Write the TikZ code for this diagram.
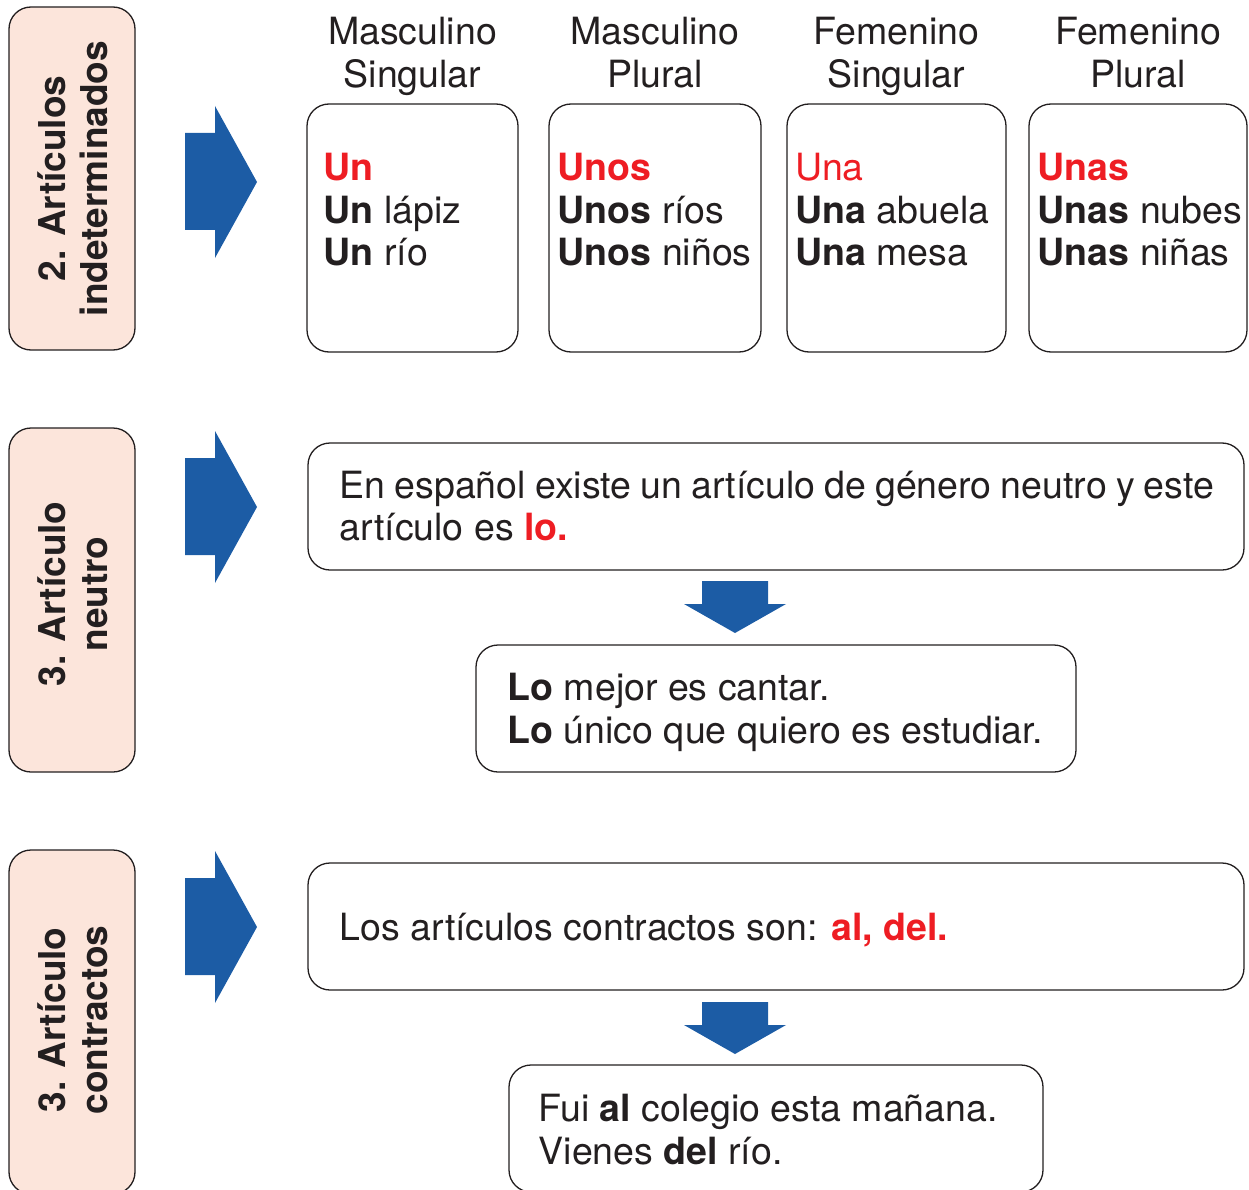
\documentclass[tikz,border=0pt]{standalone}
\usepackage{fontspec}
\setmainfont{TeX Gyre Heros}
\definecolor{ink}{HTML}{231F20}
\definecolor{redA}{HTML}{EE1D23}
\definecolor{blueA}{HTML}{1C5CA5}
\definecolor{peach}{HTML}{FCE5DB}
\begin{document}
\begin{tikzpicture}[x=1pt,y=-1pt,
  box/.style={draw=ink, line width=1.3pt, rounded corners=22pt, fill=white, inner sep=0pt, outer sep=0pt},
  lab/.style={draw=ink, line width=1.3pt, rounded corners=22pt, fill=peach, inner sep=0pt, outer sep=0pt, minimum width=126pt, minimum height=343pt},
  col/.style={box, minimum height=248pt},
  wide/.style={box, minimum height=127pt},
  txt/.style={font=\fontsize{37.5}{43}\selectfont, text=ink, inner sep=0pt, anchor=base west},
  hd/.style={font=\fontsize{37.5}{43}\selectfont, text=ink, inner sep=0pt, anchor=base},
  vt/.style={font=\fontsize{37}{42}\selectfont\bfseries, text=ink, inner sep=0pt, anchor=base, rotate=90},
  rarrow/.pic={\fill[blueA] (0,0) -- (-42,-76) -- (-42,-49) -- (-72,-49) -- (-72,48) -- (-42,48) -- (-42,76) -- cycle;},
  darrow/.pic={\fill[blueA] (0,0) -- (-51,-29) -- (-33,-29) -- (-33,-52) -- (33,-52) -- (33,-29) -- (51,-29) -- cycle;}
]
\useasboundingbox (0,0) rectangle (1249,1190);

% left label boxes
\node[lab] (L1) at (72,178.5) {};
\node[lab, minimum height=344pt] (L2) at (72,600) {};
\node[lab, minimum height=344pt] (L3) at (72,1022) {};
\node[vt] (L1a) at (65,178.5) {2. Artículos};
\node[vt] (L1b) at (107,178.5) {indeterminados};
\node[vt] (L2a) at (65,594) {3. Artículo};
\node[vt] (L2b) at (107,594) {neutro};
\node[vt] (L3a) at (65,1020) {3. Artículo};
\node[vt] (L3b) at (107,1020) {contractos};

% right arrows
\pic at (257,182) {rarrow};
\pic at (257,507) {rarrow};
\pic at (257,927) {rarrow};

% headers
\node[hd] (h1a) at (412.5,45) {Masculino};
\node[hd] (h1b) at (412.5,88) {Singular};
\node[hd] (h2a) at (655,45) {Masculino};
\node[hd] (h2b) at (655,88) {Plural};
\node[hd] (h3a) at (896.5,45) {Femenino};
\node[hd] (h3b) at (896.5,88) {Singular};
\node[hd] (h4a) at (1138,45) {Femenino};
\node[hd] (h4b) at (1138,88) {Plural};

% column boxes
\node[col, minimum width=211pt] (c1) at (412.5,228) {};
\node[col, minimum width=212pt] (c2) at (655,228) {};
\node[col, minimum width=219pt] (c3) at (896.5,228) {};
\node[col, minimum width=218pt] (c4) at (1138,228) {};

\node[txt] (c1a) at (323.5,180.5) {\textcolor{redA}{\bfseries Un}};
\node[txt] (c1b) at (323.5,223.5) {\textbf{Un} lápiz};
\node[txt] (c1c) at (323.5,265.5) {\textbf{Un} río};

\node[txt] (c2a) at (557.5,180.5) {\textcolor{redA}{\bfseries Unos}};
\node[txt] (c2b) at (557.5,223.5) {\textbf{Unos} ríos};
\node[txt] (c2c) at (557.5,265.5) {\textbf{Unos} niños};

\node[txt] (c3a) at (795,180.5) {\textcolor{redA}{Una}};
\node[txt] (c3b) at (795,223.5) {\textbf{Una} abuela};
\node[txt] (c3c) at (795,265.5) {\textbf{Una} mesa};

\node[txt] (c4a) at (1037.5,180.5) {\textcolor{redA}{\bfseries Unas}};
\node[txt] (c4b) at (1037.5,223.5) {\textbf{Unas} nubes};
\node[txt] (c4c) at (1037.5,265.5) {\textbf{Unas} niñas};

% neutral article
\node[wide, minimum width=936pt] (P1) at (776,506.5) {};
\node[txt] (P1a) at (339.5,498) {\spaceskip=9.1pt\relax En español existe un artículo de género neutro y este};
\node[txt] (P1b) at (339.5,540) {artículo es \textcolor{redA}{\bfseries lo.}};
\pic at (735,633) {darrow};
\node[wide, minimum width=600pt] (P2) at (776,708.5) {};
\node[txt] (P2a) at (507.5,700) {\textbf{Lo} mejor es cantar.};
\node[txt] (P2b) at (507.5,743) {\textbf{Lo} único que quiero es estudiar.};

% contracted articles
\node[wide, minimum width=936pt] (P3) at (776,926.5) {};
\node[txt] (P3a) at (339.5,940) {Los artículos contractos son: \textcolor{redA}{\bfseries al, del.}};
\pic at (735,1054) {darrow};
\node[wide, minimum width=534pt] (P4) at (776,1128.5) {};
\node[txt] (P4a) at (538.5,1121) {Fui \textbf{al} colegio esta mañana.};
\node[txt] (P4b) at (538.5,1164) {Vienes \textbf{del} río.};
\end{tikzpicture}
\end{document}
